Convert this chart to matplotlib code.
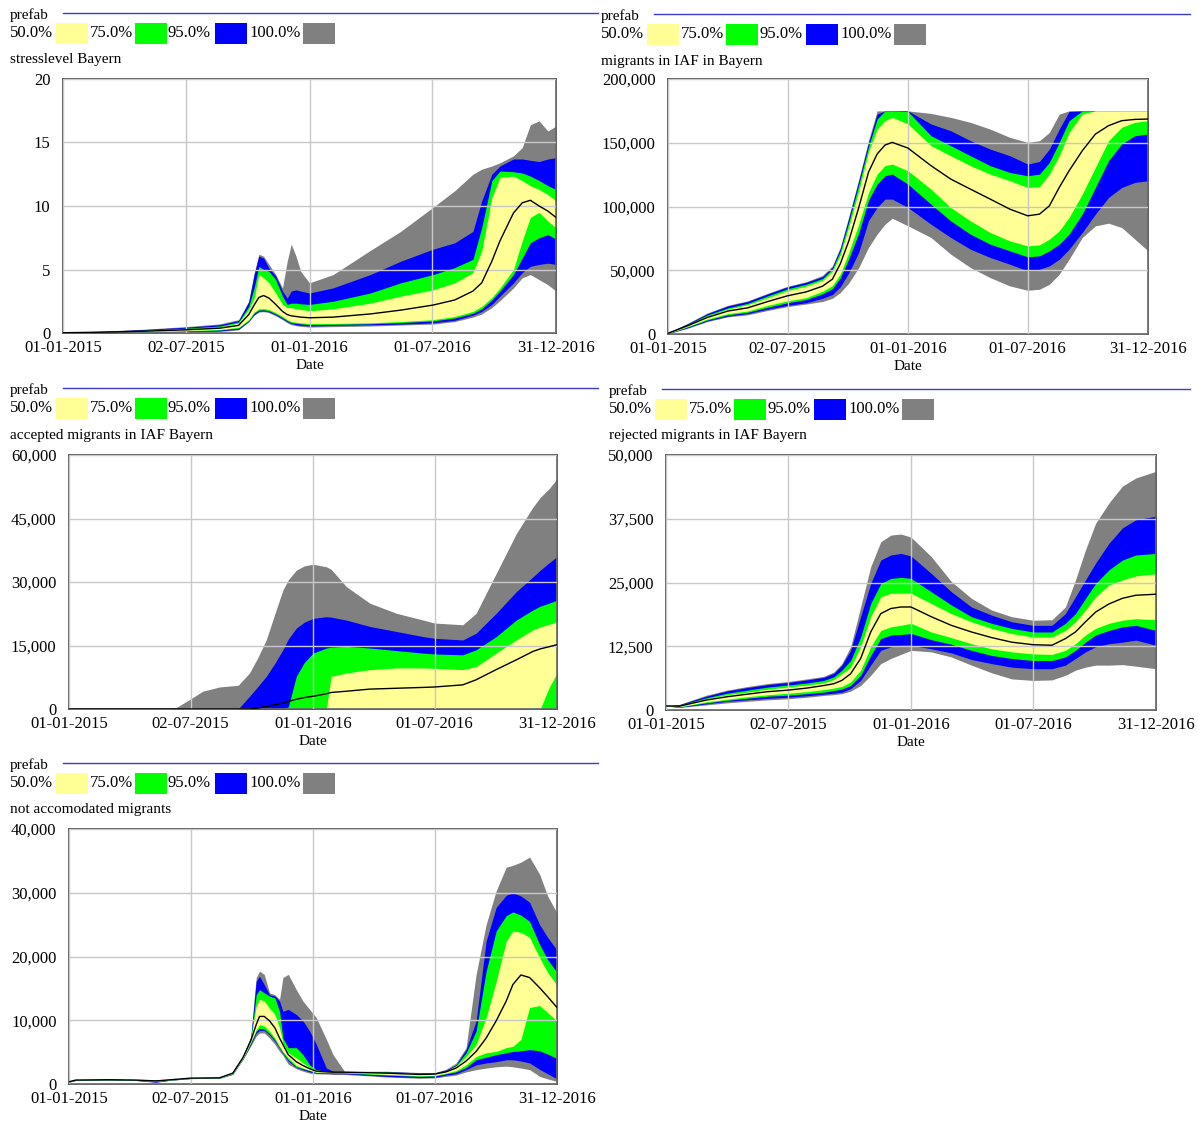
import matplotlib.pyplot as plt
from matplotlib.patches import Rectangle
from matplotlib.ticker import FuncFormatter

plt.rcParams['font.family'] = ['Liberation Serif', 'DejaVu Serif']

W, H = 1198, 1126

# --- shared axis / legend labels ---
TICK_DAYS = [0, 182, 365, 547, 730]
TICK_LABELS = ['01-01-2015', '02-07-2015', '01-01-2016', '01-07-2016', '31-12-2016']
LEGEND_LABELS = ['50.0%', '75.0%', '95.0%', '100.0%']
BAND_COLORS = ['#ffff96', '#00ff00', '#0000ff', '#808080']  # 50, 75, 95, 100 %

# --- stresslevel Bayern ---
P1_DAYS = [0, 60, 120, 182, 232, 260, 275, 283, 290, 297, 305, 315, 325, 332, 338, 345, 352,
           365, 400, 455, 500, 548, 580, 607, 620, 635, 647, 667, 680, 692, 705, 718, 730]
P1_MAX = [0.05, 0.15, 0.3, 0.5, 0.72, 1.05, 2.5, 4.7, 6.2, 6.05, 5.4, 4.6, 3.55, 5.65, 7.0, 6.05, 4.85,
          3.95, 4.6, 6.5, 8.0, 9.9, 11.2, 12.5, 12.9, 13.15, 13.4, 13.95, 14.6, 16.4, 16.7, 15.9, 16.3]
P1_HI95 = [0.05, 0.13, 0.27, 0.45, 0.65, 0.98, 2.45, 4.6, 6.05, 5.9, 5.1, 4.5, 3.3, 2.75, 3.3, 3.4, 3.3,
           3.15, 3.55, 4.6, 5.65, 6.6, 7.1, 8.0, 10.4, 12.5, 13.15, 13.7, 13.7, 13.6, 13.5, 13.7, 13.8]
P1_HI75 = [0.04, 0.11, 0.22, 0.38, 0.55, 0.88, 2.1, 3.55, 5.25, 5.0, 4.85, 4.2, 2.9, 2.25, 2.35, 2.35, 2.3,
           2.25, 2.5, 3.15, 3.95, 4.6, 5.15, 5.8, 8.3, 12.0, 12.75, 12.7, 12.6, 12.35, 12.0, 11.6, 11.3]
P1_HI50 = [0.03, 0.09, 0.18, 0.32, 0.47, 0.78, 1.85, 2.75, 4.6, 4.35, 3.95, 3.15, 2.25, 2.0, 2.0, 1.9, 1.85,
           1.75, 1.9, 2.35, 2.9, 3.4, 3.95, 4.75, 6.45, 10.65, 12.25, 12.35, 12.0, 11.6, 11.3, 10.9, 10.4]
P1_MED = [0.02, 0.07, 0.14, 0.25, 0.38, 0.6, 1.45, 2.2, 2.8, 2.95, 2.75, 2.25, 1.7, 1.45, 1.35, 1.3, 1.25,
          1.2, 1.25, 1.5, 1.8, 2.2, 2.6, 3.3, 3.95, 5.65, 7.25, 9.45, 10.25, 10.45, 10.0, 9.6, 9.1]
P1_LO50 = [0.01, 0.05, 0.1, 0.18, 0.28, 0.45, 1.05, 1.65, 1.9, 1.92, 1.85, 1.6, 1.3, 1.05, 0.9, 0.85, 0.8,
           0.75, 0.75, 0.8, 0.9, 1.05, 1.3, 1.7, 2.1, 2.8, 3.55, 5.0, 7.25, 9.1, 9.5, 8.8, 8.3]
P1_LO75 = [0.01, 0.04, 0.08, 0.15, 0.23, 0.38, 0.98, 1.55, 1.8, 1.82, 1.75, 1.5, 1.2, 0.97, 0.82, 0.76, 0.72,
           0.66, 0.68, 0.73, 0.82, 0.95, 1.18, 1.55, 1.9, 2.6, 3.3, 4.6, 5.9, 7.1, 7.5, 7.75, 7.4]
P1_LO95 = [0.0, 0.03, 0.06, 0.11, 0.17, 0.3, 0.92, 1.45, 1.7, 1.74, 1.67, 1.42, 1.12, 0.9, 0.75, 0.65, 0.6,
           0.55, 0.6, 0.65, 0.7, 0.8, 1.0, 1.4, 1.7, 2.25, 2.9, 3.95, 4.75, 5.25, 5.4, 5.5, 5.4]
P1_MIN = [0.0, 0.02, 0.04, 0.08, 0.12, 0.25, 0.88, 1.4, 1.65, 1.68, 1.6, 1.35, 1.05, 0.8, 0.65, 0.58, 0.52,
          0.47, 0.5, 0.55, 0.63, 0.7, 0.9, 1.25, 1.5, 2.0, 2.55, 3.55, 4.35, 4.6, 4.2, 3.8, 3.3]

# --- migrants in IAF in Bayern ---
P2_DAYS = [0, 30, 60, 91, 121, 152, 182, 210, 235, 250, 262, 275, 290, 305, 318, 330, 341,
           365, 400, 430, 460, 490, 520, 547, 565, 580, 595, 610, 630, 650, 670, 690, 710, 730]
P2_MAX = [1000, 8500, 16500, 22500, 26000, 32000, 37500, 41000, 46000, 53500, 68000, 92000, 121000, 152000,
          175000, 175000, 175000, 175000, 173000, 169900, 166000, 160700, 154200, 150300, 151600, 158100,
          172500, 175000, 175000, 175000, 175000, 175000, 175000, 175000]
P2_HI95 = [900, 8000, 16000, 22000, 25500, 31500, 37000, 40500, 45000, 52500, 67000, 91000, 120000, 150000,
           172500, 175000, 175000, 175000, 164700, 159400, 151600, 145000, 139800, 133300, 135300, 145000,
           160700, 174600, 175000, 175000, 175000, 175000, 175000, 175000]
P2_HI75 = [800, 7500, 15000, 20500, 24000, 30000, 35500, 39000, 43500, 51000, 65000, 88000, 117000, 147000,
           168600, 175000, 175000, 174400, 155500, 147700, 139800, 132000, 126700, 124100, 125400, 134600,
           150300, 167300, 175000, 175000, 175000, 175000, 175000, 175000]
P2_HI50 = [700, 7000, 14000, 19500, 23000, 28500, 34000, 37500, 42000, 49000, 62000, 84000, 112000, 143000,
           160700, 167300, 169900, 164700, 147700, 139800, 132000, 125400, 120200, 114900, 115500, 125400,
           139800, 158100, 172500, 175000, 175000, 175000, 175000, 175000]
P2_MED = [600, 6500, 13000, 18000, 20500, 25500, 30000, 33000, 37500, 43000, 55000, 73000, 99000, 127000,
          141100, 148200, 150300, 145800, 132000, 121500, 113600, 105800, 97900, 92700, 94000, 100500,
          114900, 128000, 143700, 156800, 163400, 167300, 168300, 168600]
P2_LO50 = [500, 6000, 11800, 16000, 18000, 22500, 26000, 28500, 33500, 38000, 47000, 64000, 86000, 111000,
           125400, 132000, 133300, 128000, 113600, 99200, 88700, 79600, 73000, 69100, 69900, 74400,
           80900, 91400, 109700, 130600, 151600, 162100, 166000, 167300]
P2_LO75 = [400, 5500, 11000, 15000, 17000, 21000, 24500, 27000, 31500, 35500, 44000, 59000, 79000, 105000,
           117500, 124100, 125400, 117500, 101800, 88700, 78300, 70400, 65200, 60500, 61300, 65200,
           70400, 78300, 94000, 114900, 135900, 149000, 155500, 156800]
P2_LO95 = [300, 5000, 10300, 14000, 16000, 19500, 22500, 24500, 28000, 31000, 37000, 48000, 64000, 89000,
           99200, 105800, 105800, 99200, 86100, 75700, 66500, 60000, 54700, 49500, 50800, 53400,
           58600, 66500, 79600, 94000, 107100, 114900, 118900, 120200]
P2_MIN = [200, 4500, 9800, 13500, 15000, 18500, 21500, 23500, 25500, 28000, 32500, 40000, 52000, 68000,
          78300, 86100, 90800, 84800, 75700, 62600, 52100, 44200, 37700, 34300, 35100, 39000,
          46900, 58600, 75700, 84800, 86900, 83500, 74400, 65200]

# --- accepted migrants in IAF Bayern ---
P3_DAYS = [0, 150, 160, 180, 200, 225, 253, 270, 282, 295, 308, 320, 328, 340, 352, 365,
           385, 392, 415, 450, 490, 530, 547, 589, 609, 639, 669, 694, 705, 718, 730]
P3_MAX = [0, 0, 300, 2200, 4200, 5200, 5600, 8500, 12000, 16300, 22500, 28100, 30500, 32800, 33800, 34200,
          33600, 33000, 28900, 25000, 22600, 21000, 20300, 19900, 22600, 32000, 41400, 47700, 50000, 52000, 54400]
P3_HI95 = [0, 0, 0, 0, 0, 0, 0, 3000, 5200, 7700, 10800, 14000, 16500, 19100, 20500, 21400,
           21800, 21700, 21000, 19500, 18300, 17100, 16700, 16300, 17900, 22600, 27700, 31200, 32800, 34500, 36000]
P3_HI75 = [0, 0, 0, 0, 0, 0, 0, 0, 0, 0, 0, 0, 500, 7700, 11000, 13200,
           14400, 14600, 14800, 14400, 13800, 13200, 13000, 12800, 14000, 17100, 21000, 23400, 24300, 25000, 25700]
P3_HI50 = [0, 0, 0, 0, 0, 0, 0, 0, 0, 0, 0, 0, 0, 0, 0, 0,
           0, 7700, 8500, 9300, 9700, 9700, 9600, 9300, 10000, 13200, 16300, 18700, 19400, 20000, 20600]
P3_MED = [0, 0, 0, 0, 0, 0, 0, 0, 200, 600, 1000, 1400, 1800, 2300, 2700, 3000,
          3600, 3900, 4200, 4700, 4900, 5100, 5200, 5700, 6900, 9300, 11600, 13600, 14200, 14700, 15200]
P3_LO50 = [0, 0, 0, 0, 0, 0, 0, 0, 0, 0, 0, 0, 0, 0, 0, 0,
           0, 0, 0, 0, 0, 0, 0, 0, 0, 0, 0, 0, 0, 5000, 8500]
P3_LO75 = [0] * len(P3_DAYS)
P3_LO95 = [0] * len(P3_DAYS)
P3_MIN = [0] * len(P3_DAYS)

# --- rejected migrants in IAF Bayern ---
P4_DAYS = [0, 20, 60, 91, 121, 152, 182, 210, 235, 250, 262, 275, 290, 305, 320, 335, 350,
           365, 395, 425, 455, 485, 515, 547, 575, 595, 610, 625, 640, 660, 680, 700, 730]
P4_MAX = [800, 1100, 2900, 3900, 4600, 5200, 5600, 6100, 6600, 7450, 9100, 12400, 20200, 28100, 33000, 34300, 34500,
          33900, 30100, 25200, 21900, 19600, 18300, 17600, 17700, 20200, 25500, 31400, 36600, 40600, 43900, 45500, 46800]
P4_HI95 = [800, 1050, 2700, 3750, 4400, 5000, 5400, 5900, 6400, 7200, 8800, 11700, 18300, 24800, 29400, 30400, 30700,
           30200, 26800, 23200, 20200, 18600, 17300, 16600, 16600, 18900, 22200, 25500, 28800, 32700, 35700, 37300, 38000]
P4_HI75 = [800, 950, 2400, 3300, 3900, 4500, 4900, 5300, 5800, 6500, 7800, 9700, 14300, 20900, 24800, 25800, 26000,
           25800, 23200, 20600, 18300, 17000, 16000, 15300, 15300, 17000, 18900, 21900, 24800, 27500, 29400, 30400, 30700]
P4_HI50 = [800, 850, 2200, 3000, 3500, 4100, 4500, 4900, 5300, 6000, 7100, 8400, 12400, 18300, 22200, 22900, 22900,
           22900, 20900, 18900, 17300, 16000, 15000, 14300, 14300, 15600, 17300, 19600, 22200, 24500, 25500, 26300, 26700]
P4_MED = [800, 750, 1950, 2600, 3100, 3600, 3900, 4300, 4800, 5150, 5800, 7100, 10100, 15300, 18900, 19900, 20200,
          20200, 18300, 16600, 15300, 14200, 13300, 12800, 12700, 14000, 15300, 17300, 19200, 20800, 21900, 22500, 22700]
P4_LO50 = [780, 650, 1600, 2100, 2600, 3000, 3300, 3600, 4000, 4300, 4600, 5500, 7800, 12400, 15600, 16300, 16600,
           17000, 15300, 14200, 13000, 12000, 11400, 11000, 10900, 11700, 13000, 14700, 16000, 17000, 17600, 17900, 17700]
P4_LO75 = [780, 600, 1400, 1900, 2300, 2700, 2900, 3200, 3500, 3800, 4100, 4800, 6800, 10700, 14000, 14700, 14800,
           15000, 13800, 12900, 11700, 10700, 10100, 9700, 9700, 10400, 11700, 13300, 14700, 15600, 16300, 16600, 15600]
P4_LO95 = [780, 550, 1200, 1700, 2000, 2300, 2500, 2800, 3100, 3300, 3500, 4200, 5800, 8800, 11700, 12400, 12700,
           12700, 12000, 11200, 9900, 9100, 8400, 8100, 8100, 8800, 10100, 11400, 12400, 13000, 13300, 13700, 12700]
P4_MIN = [780, 500, 1000, 1400, 1700, 2000, 2200, 2500, 2850, 3000, 3200, 3700, 4800, 6800, 9100, 10100, 10900,
          11700, 11400, 10400, 8800, 7300, 6100, 5800, 5900, 6800, 7800, 8400, 8800, 8800, 8900, 8600, 8100]

# --- not accomodated migrants ---
P5_DAYS = [0, 10, 60, 100, 130, 150, 182, 225, 245, 260, 272, 280, 285, 292, 300, 308, 315, 320, 328, 340, 350,
           360, 370, 385, 395, 412, 475, 524, 547, 564, 579, 594, 609, 624, 639, 654, 664, 676, 689, 704, 716, 730]
P5_MAX = [450, 700, 750, 700, 650, 750, 1000, 1050, 1900, 4400, 7500, 16700, 17700, 17200, 14300, 14000, 13300,
          16700, 17200, 14800, 13000, 11700, 10400, 7000, 4600, 2000, 2000, 1800, 1800, 2300, 3300, 5700, 17200,
          25000, 30300, 34000, 34300, 34800, 35600, 32900, 29500, 26800]
P5_HI95 = [420, 680, 730, 680, 600, 720, 980, 1030, 1850, 4300, 7300, 16100, 16900, 15600, 14000, 13800, 13000,
           11400, 11700, 10900, 9900, 8300, 6200, 2500, 2000, 1950, 1950, 1750, 1750, 2200, 3000, 5400, 9900,
           22400, 27700, 29600, 30000, 29500, 28500, 25000, 23000, 21000]
P5_HI75 = [400, 660, 710, 660, 550, 700, 960, 1010, 1800, 4250, 7200, 14000, 14800, 14300, 13800, 13500, 11400,
           7200, 5700, 5700, 4600, 3000, 2250, 2000, 1950, 1900, 1900, 1700, 1700, 2100, 2900, 4900, 8300,
           17700, 24000, 26400, 27000, 26500, 25500, 21900, 19500, 17500]
P5_HI50 = [380, 640, 690, 640, 500, 680, 940, 990, 1750, 4200, 7000, 12200, 13300, 13000, 11900, 10900, 8800,
           6400, 4900, 4100, 3300, 2600, 2100, 1950, 1900, 1900, 1800, 1600, 1650, 2000, 2800, 4300, 6200,
           10400, 16100, 22400, 24000, 23800, 23000, 19800, 17500, 15500]
P5_MED = [350, 620, 670, 620, 480, 650, 920, 970, 1700, 4100, 6800, 9300, 10600, 10600, 9900, 8800, 7200,
          6200, 4600, 3500, 2900, 2400, 2000, 1900, 1850, 1850, 1700, 1500, 1550, 1900, 2500, 3600, 5100,
          7200, 9900, 13000, 15600, 17100, 16700, 15100, 13700, 12000]
P5_LO50 = [330, 600, 650, 600, 450, 620, 900, 950, 1650, 4000, 6600, 8500, 9300, 9100, 8300, 7200, 5900,
           5100, 4100, 2900, 2500, 2150, 1850, 1800, 1800, 1800, 1500, 1300, 1350, 1700, 2100, 3000, 4300,
           4900, 5100, 5700, 5900, 7000, 12000, 12300, 11200, 9900]
P5_LO75 = [310, 580, 630, 580, 400, 600, 880, 930, 1600, 3950, 6400, 8300, 8700, 8600, 7900, 6900, 5700,
           4900, 3800, 2700, 2400, 2100, 1800, 1750, 1700, 1700, 1400, 1200, 1250, 1600, 1900, 2600, 3800,
           4200, 4600, 4900, 5100, 5200, 5400, 5200, 4700, 4000]
P5_LO95 = [300, 560, 610, 560, 300, 580, 860, 910, 1550, 3900, 6200, 8000, 8400, 8400, 7700, 6700, 5600,
           4800, 3600, 2600, 2250, 1900, 1700, 1700, 1600, 1600, 1200, 1000, 1050, 1400, 1600, 2250, 3000,
           3300, 3500, 3800, 3800, 3600, 3300, 2300, 1600, 800]
P5_MIN = [280, 540, 590, 540, 250, 560, 840, 890, 1500, 3800, 6000, 7500, 8000, 8000, 7200, 6200, 5100,
          4500, 3100, 2400, 2000, 1700, 1600, 1550, 1500, 1500, 1100, 900, 950, 1200, 1400, 1900, 2250,
          2500, 2700, 2800, 2700, 2500, 2250, 1200, 800, 400]


fig = plt.figure(figsize=(W / 100, H / 100), dpi=100)

# full-figure overlay in pixel coords for the Vensim-style headers
overlay = fig.add_axes([0, 0, 1, 1])
overlay.set_xlim(0, W)
overlay.set_ylim(H, 0)
overlay.axis('off')


def draw_header(x0, y0, line_x0, line_x1, title):
    overlay.text(x0, y0, 'prefab', va='center', ha='left', fontsize=11)
    overlay.plot([line_x0, line_x1], [y0 - 2, y0 - 2], color='#3c3cc8', lw=1)
    text_off = [0, 80, 158, 239]
    box_off = [46, 125, 205, 293]
    for label, color, tx, bx in zip(LEGEND_LABELS, BAND_COLORS, text_off, box_off):
        overlay.text(x0 + tx, y0 + 18, label, va='center', ha='left', fontsize=12)
        overlay.add_patch(Rectangle((x0 + bx, y0 + 8), 32, 21, color=color, lw=0))
    overlay.text(x0, y0 + 45, title, va='center', ha='left', fontsize=11)


def draw_panel(box, days, lo_hi, med, yticks):
    left, top, right, bottom = box
    ax = fig.add_axes([left / W, 1 - bottom / H, (right - left) / W, (bottom - top) / H])
    # gray (100%) first, yellow (50%) last
    for (lo, hi), color in zip(lo_hi, BAND_COLORS[::-1]):
        ax.fill_between(days, lo, hi, color=color, lw=0, zorder=1)
    ax.plot(days, med, color='black', lw=1, zorder=3)
    ax.set_xlim(0, 730)
    ax.set_ylim(yticks[0], yticks[-1])
    ax.set_xticks(TICK_DAYS)
    ax.set_xticklabels(TICK_LABELS)
    ax.set_yticks(yticks)
    ax.yaxis.set_major_formatter(FuncFormatter(lambda v, _: f'{v:,.0f}'))
    ax.set_axisbelow(False)
    ax.grid(True, color='#c8c8c8', lw=1)
    ax.tick_params(length=0, labelsize=12)
    ax.tick_params(axis='y', pad=9)
    ax.tick_params(axis='x', pad=5)
    for s in ax.spines.values():
        s.set_color('#505050')
        s.set_linewidth(1.2)
    ax.set_xlabel('Date', fontsize=11, labelpad=2)
    return ax


draw_header(10, 15, 63, 598, 'stresslevel Bayern')
draw_panel((63, 79, 556, 333), P1_DAYS,
           [(P1_MIN, P1_MAX), (P1_LO95, P1_HI95), (P1_LO75, P1_HI75), (P1_LO50, P1_HI50)],
           P1_MED, [0, 5, 10, 15, 20])

draw_header(601, 16, 654, 1190, 'migrants in IAF in Bayern')
draw_panel((668, 79, 1148, 334), P2_DAYS,
           [(P2_MIN, P2_MAX), (P2_LO95, P2_HI95), (P2_LO75, P2_HI75), (P2_LO50, P2_HI50)],
           P2_MED, [0, 50000, 100000, 150000, 200000])

draw_header(10, 390, 63, 598, 'accepted migrants in IAF Bayern')
draw_panel((69, 455, 557, 709), P3_DAYS,
           [(P3_MIN, P3_MAX), (P3_LO95, P3_HI95), (P3_LO75, P3_HI75), (P3_LO50, P3_HI50)],
           P3_MED, [0, 15000, 30000, 45000, 60000])

draw_header(609, 391, 662, 1190, 'rejected migrants in IAF Bayern')
draw_panel((666, 455, 1156, 710), P4_DAYS,
           [(P4_MIN, P4_MAX), (P4_LO95, P4_HI95), (P4_LO75, P4_HI75), (P4_LO50, P4_HI50)],
           P4_MED, [0, 12500, 25000, 37500, 50000])

draw_header(10, 765, 63, 598, 'not accomodated migrants')
draw_panel((69, 829, 557, 1084), P5_DAYS,
           [(P5_MIN, P5_MAX), (P5_LO95, P5_HI95), (P5_LO75, P5_HI75), (P5_LO50, P5_HI50)],
           P5_MED, [0, 10000, 20000, 30000, 40000])

fig.savefig('out.png', dpi=100)
